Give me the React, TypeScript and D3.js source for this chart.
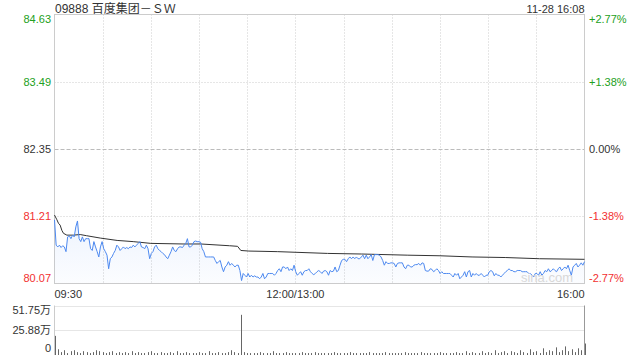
import React from "react";
import * as d3 from "d3";

const title = "09888 百度集团－ＳＷ";
const stamp = "11-28 16:08";
const prevClose = 82.35;
const priceTicks = [84.63, 83.49, 82.35, 81.21, 80.07];
const pctTicks = ["+2.77%", "+1.38%", "0.00%", "-1.38%", "-2.77%"];
const timeLabels = ["09:30", "12:00/13:00", "16:00"];
const timeLabelMinutes = [0, 150, 330];
const volTicks = [51.75, 25.88, 0];
const volTickLabels = ["51.75万", "25.88万", "0"];

const prices = [
  81.15, 80.72, 80.69, 80.72, 80.68, 80.71, 80.69, 80.61, 80.86, 80.88,
  80.83, 80.89, 80.86, 81.03, 81.13, 80.83, 80.78, 80.86, 80.78, 80.83,
  80.83, 80.83, 80.66, 80.63, 80.78, 80.69, 80.61, 80.52, 80.69, 80.78,
  80.66, 80.61, 80.55, 80.32, 80.49, 80.52, 80.58, 80.63, 80.72, 80.69,
  80.63, 80.66, 80.69, 80.66, 80.68, 80.66, 80.69, 80.68, 80.72, 80.69,
  80.72, 80.75, 80.78, 80.69, 80.68, 80.66, 80.72, 80.66, 80.49, 80.58,
  80.61, 80.69, 80.72, 80.66, 80.63, 80.61, 80.58, 80.56, 80.52, 80.49,
  80.55, 80.61, 80.69, 80.63, 80.61, 80.66, 80.69, 80.69, 80.68, 80.72,
  80.75, 80.83, 80.69, 80.69, 80.72, 80.78, 80.79, 80.78, 80.78, 80.77,
  80.66, 80.61, 80.52, 80.52, 80.52, 80.52, 80.52, 80.52, 80.46, 80.41,
  80.44, 80.46, 80.35, 80.27, 80.35, 80.38, 80.44,
  80.38, 80.41, 80.38, 80.35, 80.38, 80.38, 80.29, 80.12, 80.24, 80.21,
  80.18, 80.24, 80.18, 80.21, 80.18, 80.20, 80.18, 80.18, 80.15, 80.18,
  80.24, 80.15, 80.18, 80.24, 80.24, 80.24, 80.24, 80.21, 80.24, 80.29,
  80.32, 80.27, 80.35, 80.35, 80.32, 80.35, 80.29, 80.32, 80.29, 80.38,
  80.27, 80.21, 80.24, 80.27, 80.21, 80.27, 80.29, 80.29, 80.32, 80.27,
  80.24, 80.22, 80.24, 80.27, 80.29, 80.27, 80.24, 80.28, 80.29, 80.27,
  80.21, 80.29, 80.27, 80.28, 80.35, 80.27, 80.29, 80.38, 80.46, 80.48,
  80.48, 80.44, 80.49, 80.52, 80.49, 80.52, 80.49, 80.52, 80.49, 80.49,
  80.52, 80.55, 80.49, 80.55, 80.49, 80.52, 80.56, 80.46, 80.56, 80.56,
  80.56, 80.55, 80.52, 80.46, 80.38, 80.44, 80.41, 80.41, 80.42, 80.42,
  80.41, 80.35, 80.41, 80.42, 80.42, 80.42, 80.35, 80.32, 80.38, 80.38,
  80.35, 80.35, 80.38, 80.39, 80.39, 80.41, 80.38, 80.42, 80.41, 80.29,
  80.28, 80.28, 80.32, 80.31, 80.27, 80.29, 80.32, 80.29, 80.24, 80.27,
  80.24, 80.24, 80.24, 80.24, 80.24, 80.21, 80.18, 80.24, 80.21, 80.24,
  80.15, 80.18, 80.21, 80.27, 80.18, 80.27, 80.29, 80.18, 80.24, 80.21,
  80.24, 80.21, 80.21, 80.24, 80.21, 80.18, 80.21, 80.21, 80.27, 80.29,
  80.27, 80.20, 80.24, 80.21, 80.21, 80.18, 80.21, 80.24, 80.27, 80.29,
  80.32, 80.29, 80.29, 80.27, 80.27, 80.29, 80.29, 80.29, 80.27, 80.27,
  80.27, 80.27, 80.24, 80.24, 80.21, 80.18, 80.24, 80.24, 80.21, 80.27,
  80.21, 80.24, 80.29, 80.27, 80.32, 80.27, 80.29, 80.32, 80.29, 80.27,
  80.32, 80.35, 80.29, 80.32, 80.35, 80.32, 80.38, 80.29, 80.21, 80.35,
  80.38, 80.41, 80.35, 80.38, 80.42, 80.38, 80.44,
];

const avgMinutes = [0, 1.5, 2.5, 3.5, 4.6, 5.6, 7.7, 11.8, 16, 20, 28.5, 39, 49, 60, 80, 91, 109, 114, 116, 121, 139, 170, 191, 220, 240, 260, 281, 302, 330];
const avgPrices = [81.23, 81.15, 81.09, 81.06, 80.97, 80.92, 80.89, 80.89, 80.9, 80.88, 80.84, 80.8, 80.78, 80.75, 80.74, 80.74, 80.71, 80.7, 80.63, 80.62, 80.61, 80.58, 80.57, 80.55, 80.54, 80.52, 80.51, 80.49, 80.48];

// volume in 万 shares, one bar every 2 minutes
const volumes = [
  20,
  6, 3, 5, 2, 4, 5, 3, 2, 4, 3, 2, 3, 5, 4, 3, 2, 3, 4, 2, 3,
  2, 3, 2, 4, 2, 3, 2, 2, 3, 4, 2, 2, 3, 2, 2, 3, 2, 4, 2, 2,
  3, 2, 2, 2, 3, 2, 2, 4, 2, 2, 3, 2, 2, 3, 5, 3, 2,
  42,
  3, 2, 2, 2, 2, 3, 2, 2, 2, 4, 2, 2, 2, 3, 2, 2, 2, 2, 3, 2, 2, 2,
  3, 2, 2, 2, 2, 2, 3, 2, 2, 2, 2, 3, 2, 2, 2, 2, 2, 3, 2, 2,
  2, 2, 3, 2, 2, 2, 2, 2, 3, 2, 2, 2, 2, 3, 2, 2, 2, 2, 2, 3,
  2, 2, 2, 2, 3, 2, 2, 4, 2, 3, 2, 2, 4, 2, 3, 2, 5, 2, 3, 4,
  2, 4, 3, 2, 5, 3, 2, 6, 3, 4, 2, 7, 3, 5, 4, 8, 3, 5, 9, 4, 6, 3, 7, 5, 12,
];

const W = 640;
const H = 360;
const L = 54.5;
const R = 584.5;
const PT = 14.5;
const PB = 283.5;
const VT = 305.5;
const VB = 355;
const GREEN = "#22a022";
const RED = "#f2302f";
const FONT = "Arial, 'Liberation Sans', 'Noto Sans CJK SC', sans-serif";

export default function App() {
  const x = d3.scaleLinear().domain([0, 330]).range([L, R]);
  const y = d3.scaleLinear().domain([80.07, 84.63]).range([PB, PT]);
  const yv = d3.scaleLinear().domain([0, 51.75]).range([VB, VT]);
  const n = prices.length;
  const xi = (i: number) => x((i * 330) / (n - 1));

  const line = d3.line<number>().x((_, i) => xi(i)).y((d) => y(d));
  const area = d3.area<number>().x((_, i) => xi(i)).y0(PB).y1((d) => y(d));
  const avgLine = d3.line<number>().x((_, i) => x(avgMinutes[i])).y((d) => y(d));

  const priceColor = (v: number) => (v > prevClose ? GREEN : v < prevClose ? RED : "#333");
  const gridMinutes = d3.range(1, 11).map((k) => k * 30);

  return (
    <svg width={W} height={H} style={{ position: "absolute", left: 0, top: 0, background: "#fff" }} fontFamily={FONT}>
      <defs>
        <linearGradient id="fillg" x1="0" y1="0" x2="0" y2="1">
          <stop offset="0%" stopColor="#4d89f0" stopOpacity={0.1} />
          <stop offset="100%" stopColor="#4d89f0" stopOpacity={0.02} />
        </linearGradient>
      </defs>
      <text x={55} y={13} fontSize={12} fill="#333">{title}</text>
      <text x={R} y={13} fontSize={11} fill="#333" textAnchor="end">{stamp}</text>

      {/* vertical grid */}
      {gridMinutes.map((m) => (
        <line key={m} x1={Math.round(x(m)) + 0.5} x2={Math.round(x(m)) + 0.5} y1={PT} y2={PB} stroke="#ccc" strokeDasharray="1,2" />
      ))}
      {/* horizontal grid */}
      {priceTicks.slice(1, 4).map((p) => (
        <line key={p} x1={L} x2={R} y1={Math.round(y(p)) + 0.5} y2={Math.round(y(p)) + 0.5}
          stroke={p === prevClose ? "#bbb" : "#ccc"} strokeDasharray={p === prevClose ? "4,2" : "1,2"} />
      ))}
      <rect x={L} y={PT} width={R - L} height={PB - PT} fill="none" stroke="#ccc" />

      <path d={area(prices) || ""} fill="url(#fillg)" />
      <path d={avgLine(avgPrices) || ""} fill="none" stroke="#333" strokeWidth={1} />
      <path d={line(prices) || ""} fill="none" stroke="#4d89f0" strokeWidth={1} />

      <text x={573} y={282} fontSize={13} fill="#d8d8d8" textAnchor="end">sina.com</text>

      {priceTicks.map((p, i) => {
        const yy = i === 0 ? y(p) + 5 : i === priceTicks.length - 1 ? y(p) - 5 : y(p);
        return (
          <g key={p}>
            <text x={51} y={yy} dy="0.35em" fontSize={11} fill={priceColor(p)} textAnchor="end">{p.toFixed(2)}</text>
            <text x={589} y={yy} dy="0.35em" fontSize={11} fill={priceColor(p)}>{pctTicks[i]}</text>
          </g>
        );
      })}

      {timeLabels.map((t, i) => (
        <text key={t} x={x(timeLabelMinutes[i])} y={294} dy="0.35em" fontSize={11} fill="#333"
          textAnchor={i === 0 ? "start" : i === timeLabels.length - 1 ? "end" : "middle"}>{t}</text>
      ))}

      {/* volume panel */}
      {volTicks.slice(0, 2).map((v) => (
        <line key={v} x1={L} x2={R} y1={Math.round(yv(v)) + 0.5} y2={Math.round(yv(v)) + 0.5} stroke="#ccc" strokeDasharray="1,1" />
      ))}
      <line x1={L} x2={L} y1={VT} y2={VB} stroke="#ccc" />
      <line x1={R} x2={R} y1={VT} y2={VB} stroke="#999" />
      {volumes.map((v, i) => {
        const xx = Math.round(x(i * 2)) + 0.5;
        return <line key={i} x1={xx} x2={xx} y1={VB} y2={yv(v)} stroke="#666" strokeWidth={1} />;
      })}
      {volTicks.map((v, i) => (
        <text key={v} x={51} y={i === 2 ? yv(v) - 7 : i === 0 ? yv(v) + 5 : yv(v)} dy="0.35em" fontSize={11} fill="#333" textAnchor="end">{volTickLabels[i]}</text>
      ))}
    </svg>
  );
}
